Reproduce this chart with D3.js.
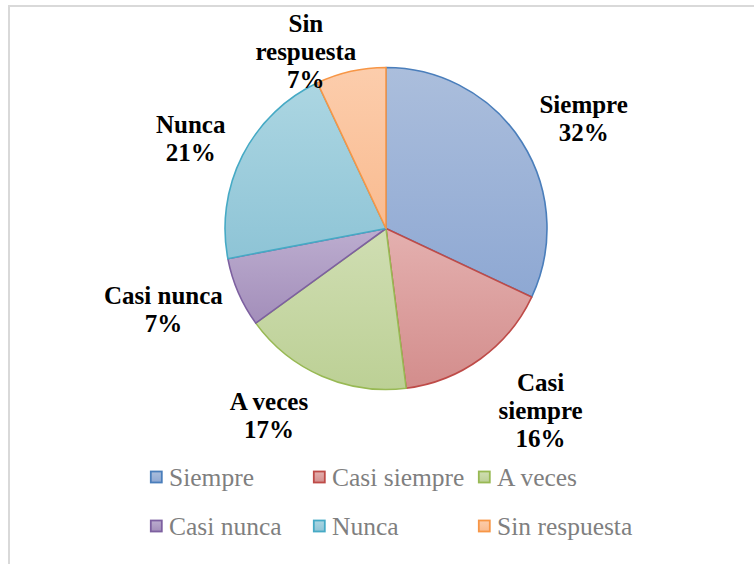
<!DOCTYPE html>
<html>
<head>
<meta charset="utf-8">
<script src="https://cdn.jsdelivr.net/npm/d3@7"></script>
<style>
  html, body { margin: 0; padding: 0; background: #fff; }
  svg { display: block; }
</style>
</head>
<body>
<svg id="chart" width="754" height="564"></svg>
<script>
// Survey answers and their share of responses (%)
const categories = ["Siempre", "Casi siempre", "A veces", "Casi nunca", "Nunca", "Sin respuesta"];
const values = [32, 16, 17, 7, 21, 7];
const labelLines = [["Siempre"], ["Casi", "siempre"], ["A veces"], ["Casi nunca"], ["Nunca"], ["Sin", "respuesta"]];

// Slice styling: outline, gradient top, gradient bottom
const strokeColors = ["#4a7ebb", "#be4b48", "#98b954", "#7d60a0", "#46aac5", "#f79646"];
const fillTop      = ["#abbedc", "#e4b0af", "#d0deb3", "#bcadcf", "#acd6e2", "#fccdac"];
const fillBottom   = ["#8ea8d3", "#d38d8c", "#bcd095", "#a38eba", "#8ec4d6", "#f9bb90"];

// Where each data label sits: angle shift from slice middle (deg) and distance from centre
const labelLayout = [
  { dA: 3.4,  r: 226 },
  { dA: -4.3, r: 239 },
  { dA: 8.6,  r: 221 },
  { dA: 3.3,  r: 237 },
  { dA: -2.3, r: 215 },
  { dA: -11.8, r: 194 }
];

const svg = d3.select("#chart");
const cx = 386, cy = 228.5, radius = 161;

// Chart area frame
svg.append("rect")
  .attr("x", 9).attr("y", 6)
  .attr("width", 760).attr("height", 580)
  .attr("fill", "none")
  .attr("stroke", "#d9d9d9")
  .attr("stroke-width", 2);

const defs = svg.append("defs");
categories.forEach((c, i) => {
  const g = defs.append("linearGradient")
    .attr("id", "grad" + i)
    .attr("x1", 0).attr("y1", 0).attr("x2", 0).attr("y2", 1);
  g.append("stop").attr("offset", "0%").attr("stop-color", fillTop[i]);
  g.append("stop").attr("offset", "100%").attr("stop-color", fillBottom[i]);
});

const data = categories.map((c, i) => ({ name: c, value: values[i], i }));
const pie = d3.pie().value(d => d.value).sort(null);
const arc = d3.arc().innerRadius(0).outerRadius(radius);
const arcs = pie(data);

const g = svg.append("g").attr("transform", `translate(${cx},${cy})`);

g.selectAll("path.slice")
  .data(arcs)
  .join("path")
  .attr("class", "slice")
  .attr("d", arc)
  .attr("fill", d => `url(#grad${d.data.i})`)
  .attr("stroke", d => strokeColors[d.data.i])
  .attr("stroke-width", 1.6)
  .attr("stroke-linejoin", "round");

// Data labels: name on one or two lines, then percentage
const fontSize = 25, lineH = 28;
g.selectAll("text.lbl")
  .data(arcs)
  .join("text")
  .attr("class", "lbl")
  .attr("font-family", "'Liberation Serif', 'Times New Roman', serif")
  .attr("font-weight", "bold")
  .attr("font-size", fontSize)
  .attr("fill", "#000")
  .attr("text-anchor", "middle")
  .each(function(d) {
    const lay = labelLayout[d.data.i];
    const a = (d.startAngle + d.endAngle) / 2 + lay.dA * Math.PI / 180;
    const x = Math.sin(a) * lay.r;
    const y = -Math.cos(a) * lay.r;
    const lines = labelLines[d.data.i].concat([d.data.value + "%"]);
    const top = y - (lines.length - 1) * lineH / 2 + fontSize * 0.33;
    d3.select(this).selectAll("tspan")
      .data(lines)
      .join("tspan")
      .attr("x", x)
      .attr("y", (t, k) => top + k * lineH)
      .text(t => t);
  });

// Legend: two rows of three entries
const legendX = [150, 313, 478];
const legendY = [477, 526];
const legend = svg.append("g");
data.forEach((d, i) => {
  const col = i % 3, row = Math.floor(i / 3);
  const item = legend.append("g")
    .attr("transform", `translate(${legendX[col]},${legendY[row]})`);
  item.append("rect")
    .attr("x", 0.8).attr("y", -5.5)
    .attr("width", 11).attr("height", 11)
    .attr("fill", `url(#grad${i})`)
    .attr("stroke", strokeColors[i])
    .attr("stroke-width", 1.8);
  item.append("text")
    .attr("x", 19).attr("y", 8.5)
    .attr("font-family", "'Liberation Serif', 'Times New Roman', serif")
    .attr("font-size", 25.5)
    .attr("fill", "#7f7f7f")
    .text(d.name);
});
</script>
</body>
</html>
